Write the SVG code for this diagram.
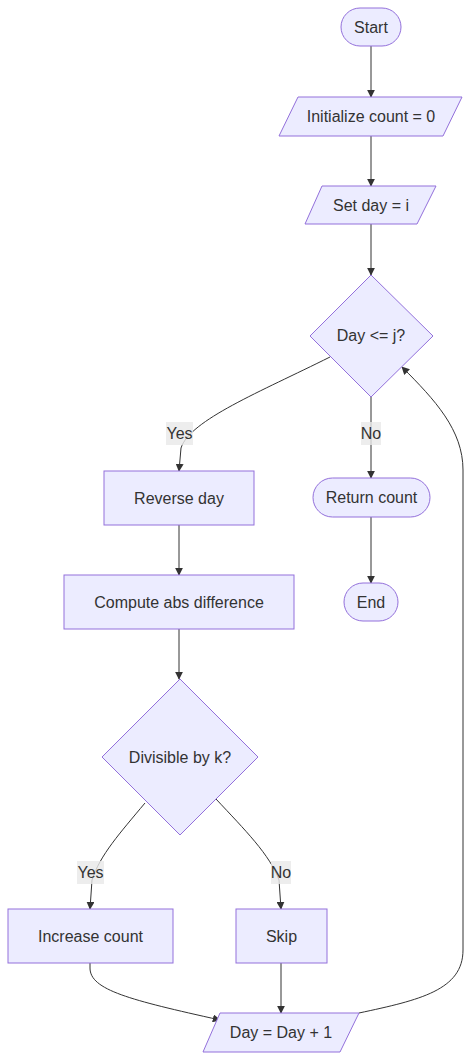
<svg xmlns="http://www.w3.org/2000/svg" width="472" height="1061" viewBox="0 0 472 1061">
<style>
.n{fill:#ECECFF;stroke:#9370DB;stroke-width:1}
.t{font-family:"Liberation Sans",Arial,sans-serif;font-size:16px;fill:#333333;text-anchor:middle;dominant-baseline:central}
.e{fill:none;stroke:#333333;stroke-width:1}
.lb{fill:#E8E8E8;opacity:0.8}
</style>
<defs>
<marker id="ah" viewBox="0 0 10 10" refX="9" refY="5" markerWidth="8" markerHeight="8" orient="auto" markerUnits="userSpaceOnUse">
<path d="M0,0 L10,5 L0,10 z" fill="#333333"/>
</marker>
</defs>
<rect width="472" height="1061" fill="#ffffff"/>
<g id="edges">
<path class="e" d="M371,46 L371,97" marker-end="url(#ah)"/>
<path class="e" d="M371,136 L371,186" marker-end="url(#ah)"/>
<path class="e" d="M371,224 L371,275" marker-end="url(#ah)"/>
<path class="e" d="M330,357 C260,392 190,420 181,448 L179,471" marker-end="url(#ah)"/>
<path class="e" d="M371,397 L371,478" marker-end="url(#ah)"/>
<path class="e" d="M371,517 L371,583" marker-end="url(#ah)"/>
<path class="e" d="M179,525 L179,575" marker-end="url(#ah)"/>
<path class="e" d="M179,629 L179,679" marker-end="url(#ah)"/>
<path class="e" d="M145,803 C120,833 100,855 92,880 L90,909" marker-end="url(#ah)"/>
<path class="e" d="M216,799 C245,830 270,855 279,880 L281,909" marker-end="url(#ah)"/>
<path class="e" d="M90,963 L90,968 C90,990 130,1000 220,1020" marker-end="url(#ah)"/>
<path class="e" d="M281,963 L281,1013" marker-end="url(#ah)"/>
<path class="e" d="M359,1013 C420,1000 463,990 463,950 L463,470 C463,430 435,400 402,367" marker-end="url(#ah)"/>
</g>
<g id="edge-labels">
<rect class="lb" x="166" y="422" width="27" height="23"/>
<text class="t" x="179.5" y="433.5">Yes</text>
<rect class="lb" x="361" y="422" width="20" height="23"/>
<text class="t" x="371" y="433.5">No</text>
<rect class="lb" x="77" y="861" width="27" height="23"/>
<text class="t" x="90.5" y="872.5">Yes</text>
<rect class="lb" x="271" y="861" width="20" height="23"/>
<text class="t" x="281" y="872.5">No</text>
</g>
<g id="start">
<rect class="n" x="341" y="8" width="60" height="38" rx="19" ry="19"/>
<text class="t" x="371" y="27">Start</text>
</g>
<g id="init">
<polygon class="n" points="298,97 462,97 443,136 279,136"/>
<text class="t" x="371" y="116">Initialize count = 0</text>
</g>
<g id="setday">
<polygon class="n" points="322,186 436,186 417,224 305,224"/>
<text class="t" x="371" y="205">Set day = i</text>
</g>
<g id="cond1">
<polygon class="n" points="371,275 433,336 371,397 310,336"/>
<text class="t" x="371" y="335">Day &lt;= j?</text>
</g>
<g id="reverse">
<rect class="n" x="104" y="471" width="150" height="54"/>
<text class="t" x="179" y="498">Reverse day</text>
</g>
<g id="ret">
<rect class="n" x="313" y="478" width="117" height="39" rx="19.5" ry="19.5"/>
<text class="t" x="371.5" y="497.5">Return count</text>
</g>
<g id="end">
<rect class="n" x="344" y="583" width="54" height="38" rx="19" ry="19"/>
<text class="t" x="371" y="602">End</text>
</g>
<g id="compute">
<rect class="n" x="64" y="575" width="230" height="54"/>
<text class="t" x="179" y="602">Compute abs difference</text>
</g>
<g id="cond2">
<polygon class="n" points="180,679 258,757 180,835 102,757"/>
<text class="t" x="180" y="757">Divisible by k?</text>
</g>
<g id="increase">
<rect class="n" x="8" y="909" width="165" height="54"/>
<text class="t" x="90.5" y="936">Increase count</text>
</g>
<g id="skip">
<rect class="n" x="236" y="909" width="91" height="54"/>
<text class="t" x="281.5" y="936">Skip</text>
</g>
<g id="inc">
<polygon class="n" points="220,1013 359,1013 340,1052 203,1052"/>
<text class="t" x="281" y="1032">Day = Day + 1</text>
</g>
</svg>
